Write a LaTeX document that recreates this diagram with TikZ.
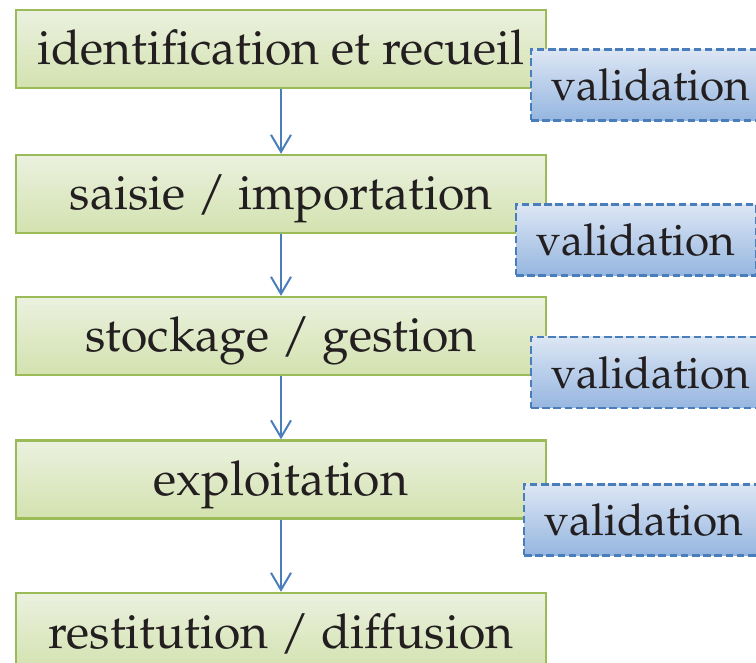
\documentclass[tikz,border=0pt]{standalone}
\usepackage[T1]{fontenc}
\usepackage{mathpazo}
\usetikzlibrary{arrows.meta}
\definecolor{gborder}{HTML}{9BBB59}
\definecolor{gtop}{HTML}{EBF1DF}
\definecolor{gbot}{HTML}{D3E2AF}
\definecolor{bborder}{HTML}{4A7EBB}
\definecolor{btop}{HTML}{DCE6F4}
\definecolor{bbot}{HTML}{96B6E0}
\definecolor{arrowc}{HTML}{4A7EBB}
\definecolor{txt}{HTML}{231F20}
\tikzset{
  stagebox/.style={draw=gborder, line width=1.2pt, top color=gtop, bottom color=gbot,
    minimum width=265pt, minimum height=39pt, inner sep=0pt,
    text height=18pt, text depth=2pt, text=txt,
    font=\fontsize{24}{29}\selectfont},
  valbox/.style={draw=bborder, line width=1.1pt, dash pattern=on 3.8pt off 1.8pt,
    top color=btop, bottom color=bbot,
    minimum width=120pt, minimum height=35.5pt, inner sep=0pt,
    text height=18pt, text depth=2pt, text=txt,
    font=\fontsize{22}{27}\selectfont},
  flow/.style={draw=arrowc, line width=1pt, -{Straight Barb[length=8.5pt,width=10pt,line width=1pt]}}
}
\begin{document}
\begin{tikzpicture}[x=0.5pt,y=-0.5pt]
\useasboundingbox (0,0) rectangle (756,663);
\clip (0,0) rectangle (756,663);
\node[stagebox] (s1) at (281,49) {identification et recueil};
\node[stagebox] (s2) at (281,194) {saisie / importation};
\node[stagebox] (s3) at (281,336) {stockage / gestion};
\node[stagebox] (s4) at (281,479.5) {exploitation};
\node[stagebox] (s5) at (281,632) {restitution / diffusion};
\draw[flow] (s1) -- (s2);
\draw[flow] (s2) -- (s3);
\draw[flow] (s3) -- (s4);
\draw[flow] (s4) -- (s5);
\node[valbox] (v1) at (651,85) {validation};
\node[valbox] (v2) at (636,240) {validation};
\node[valbox] (v3) at (651,372.5) {validation};
\node[valbox] (v4) at (644,520) {validation};
\end{tikzpicture}
\end{document}
